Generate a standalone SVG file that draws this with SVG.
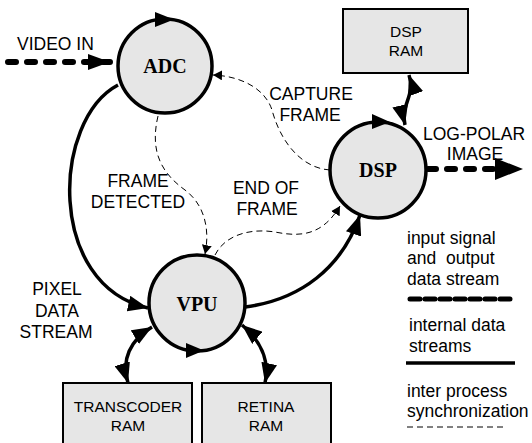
<svg xmlns="http://www.w3.org/2000/svg" width="532" height="443" viewBox="0 0 532 443">
<style>
.lbl{font-family:"Liberation Sans",Arial,sans-serif;font-size:17.5px;fill:#000}
.box-t{font-family:"Liberation Sans",Arial,sans-serif;font-size:15.5px;fill:#000;text-anchor:middle}
.node-t{font-family:"Liberation Serif","Times New Roman",serif;font-weight:bold;font-size:20px;fill:#000;text-anchor:middle}
.mid{text-anchor:middle}
.proc{fill:#e6e6e6;stroke:#000;stroke-width:3.5}
.box{fill:#e6e6e6;stroke:#000;stroke-width:2}
.thick{fill:none;stroke:#000;stroke-width:3.5}
.io{fill:none;stroke:#000;stroke-width:6;stroke-dasharray:8 11;stroke-linecap:round}
.sync{fill:none;stroke:#000;stroke-width:1;stroke-dasharray:6 4}
</style>
<defs>
<marker id="big" markerUnits="userSpaceOnUse" markerWidth="24" markerHeight="16" refX="20" refY="8" orient="auto"><path d="M0,0 L20,8 L0,16 Z" fill="#000"/></marker>
<marker id="bigS" markerUnits="userSpaceOnUse" markerWidth="24" markerHeight="16" refX="20" refY="8" orient="auto-start-reverse"><path d="M0,0 L20,8 L0,16 Z" fill="#000"/></marker>
<marker id="io" markerUnits="userSpaceOnUse" markerWidth="30" markerHeight="22" refX="28" refY="11" orient="auto"><path d="M0,0 L28,11 L0,22 Z" fill="#000"/></marker>
<marker id="ioS" markerUnits="userSpaceOnUse" markerWidth="24" markerHeight="16" refX="22" refY="8" orient="auto"><path d="M0,0 L22,8 L0,16 Z" fill="#000"/></marker>
<marker id="sm" markerUnits="userSpaceOnUse" markerWidth="10" markerHeight="10" refX="9" refY="5" orient="auto"><path d="M0,0 L9,5 L0,10 Z" fill="#000"/></marker>
</defs>

<g id="connectors">
<path class="io" d="M8,62 L110,62" marker-end="url(#ioS)"/>
<path class="io" d="M428,169 L523,169" marker-end="url(#io)"/>
<path class="thick" d="M118,85 C 52,120 46,285 148,308" marker-end="url(#big)"/>
<path class="thick" d="M245,307 C 300,300 342,268 360,215" marker-end="url(#big)"/>
<path class="thick" d="M152,327 C 130,340 121,360 128,383" marker-start="url(#bigS)" marker-end="url(#bigS)"/>
<path class="thick" d="M242,325 C 260,340 270,360 265,383" marker-start="url(#bigS)" marker-end="url(#bigS)"/>
<path class="thick" d="M409,75 C 416,95 400,105 405,125" marker-start="url(#bigS)" marker-end="url(#bigS)"/>
<path class="sync" d="M330,170 C 300,168 280,140 272,110 C 265,88 240,76 213,75" marker-end="url(#sm)"/>
<path class="sync" d="M158,116 C 150,150 160,172 185,190 C 205,205 210,230 205,254" marker-end="url(#sm)"/>
<path class="sync" d="M215,255 C 225,235 250,228 275,232 C 300,237 322,236 340,206" marker-end="url(#sm)"/>
</g>

<g id="adc">
<circle class="proc" cx="165" cy="66" r="47"/>
<path d="M155,12 L174,19.5 L155,27 Z" fill="#000"/>
<text class="node-t" x="165" y="73">ADC</text>
</g>

<g id="dsp">
<circle class="proc" cx="378" cy="170" r="48"/>
<path d="M372,114 L390,122 L372,129 Z" fill="#000"/>
<text class="node-t" x="378" y="177">DSP</text>
</g>

<g id="vpu">
<circle class="proc" cx="197" cy="303" r="48"/>
<path d="M186,343 L204,350.5 L186,358 Z" fill="#000"/>
<text class="node-t" x="197" y="311">VPU</text>
</g>

<g id="dsp-ram">
<rect class="box" x="343" y="9" width="125" height="64"/>
<text class="box-t" x="406" y="37">DSP</text>
<text class="box-t" x="406" y="56">RAM</text>
</g>

<g id="transcoder-ram">
<rect class="box" x="63" y="383" width="129" height="70"/>
<text class="box-t" x="128" y="412">TRANSCODER</text>
<text class="box-t" x="128" y="431">RAM</text>
</g>

<g id="retina-ram">
<rect class="box" x="202" y="383" width="129" height="70"/>
<text class="box-t" x="266" y="412">RETINA</text>
<text class="box-t" x="266" y="431">RAM</text>
</g>

<g id="labels">
<text class="lbl" x="17" y="50">VIDEO IN</text>
<text class="lbl mid" x="138" y="187">FRAME</text>
<text class="lbl mid" x="138" y="208">DETECTED</text>
<text class="lbl mid" x="266" y="194">END OF</text>
<text class="lbl mid" x="267" y="215">FRAME</text>
<text class="lbl mid" x="311" y="100">CAPTURE</text>
<text class="lbl mid" x="310" y="121">FRAME</text>
<text class="lbl mid" x="474" y="140">LOG-POLAR</text>
<text class="lbl mid" x="475" y="160">IMAGE</text>
<text class="lbl mid" x="57" y="295">PIXEL</text>
<text class="lbl mid" x="57" y="317">DATA</text>
<text class="lbl mid" x="56" y="338">STREAM</text>
</g>

<g id="legend">
<text class="lbl" x="407" y="244">input signal</text>
<text class="lbl" x="407" y="264" xml:space="preserve">and  output</text>
<text class="lbl" x="407" y="285">data stream</text>
<line x1="410" y1="299" x2="514" y2="299" stroke="#000" stroke-width="5" stroke-dasharray="10 5" stroke-linecap="round"/>
<text class="lbl" x="409" y="331">internal data</text>
<text class="lbl" x="409" y="352">streams</text>
<line x1="406" y1="363" x2="515" y2="363" stroke="#000" stroke-width="3.5"/>
<text class="lbl" x="407" y="397">inter process</text>
<text class="lbl" x="407" y="417">synchronization</text>
<line x1="407" y1="427" x2="506" y2="427" stroke="#000" stroke-width="1" stroke-dasharray="6 4"/>
</g>
</svg>
